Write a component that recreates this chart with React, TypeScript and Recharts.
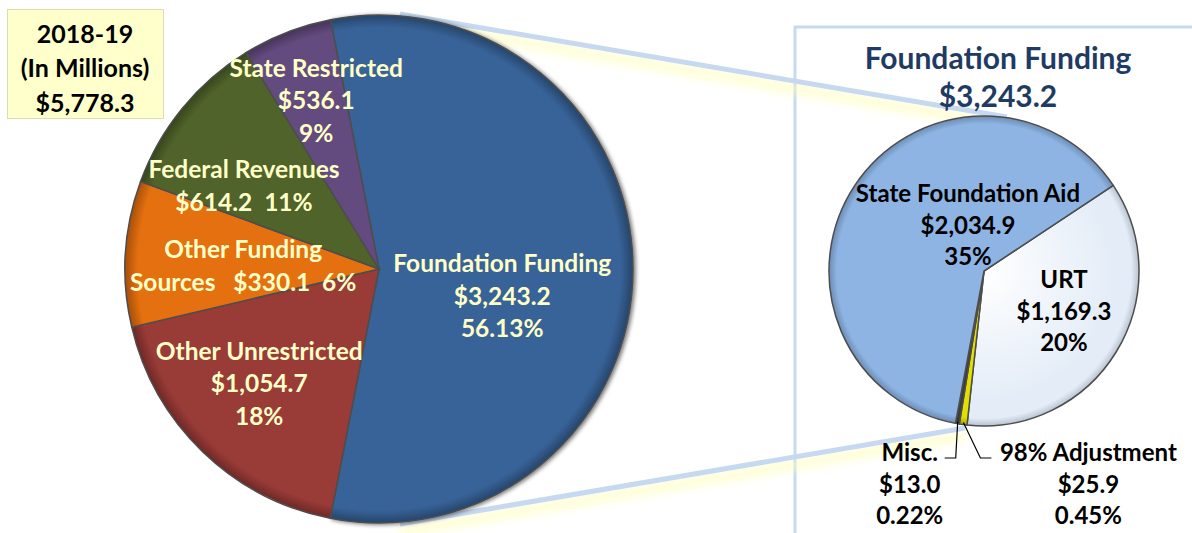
import React from 'react';
import { PieChart, Pie, Cell } from 'recharts';

const W = 1192;
const H = 533;

// main pie, clockwise from the top
const mainNames = ['Foundation Funding', 'Other Unrestricted', 'Other Funding Sources', 'Federal Revenues', 'State Restricted'];
// slice sizes as drawn (orange is drawn at the 536.1 size, purple at the 330.1 size)
const mainValues = [3243.2, 1054.7, 536.1, 614.2, 330.1];
const mainColors = ['#386398', '#993b37', '#e5700f', '#50632a', '#634b7f'];
const mainRims = ['#26456b', '#6e2826', '#a84f08', '#37451c', '#45345a'];
const mainLabels = [
  ['Foundation Funding', '$3,243.2', '56.13%'],
  ['Other Unrestricted', '$1,054.7', '18%'],
  ['Other Funding', 'Sources   $330.1  6%'],
  ['Federal Revenues', '$614.2  11%'],
  ['State Restricted', '$536.1', '9%'],
];

// breakdown of Foundation Funding, clockwise from the upper right
const subNames = ['URT', '98% Adjustment', 'Misc.', 'State Foundation Aid'];
const subValues = [1169.3, 25.9, 13.0, 2034.9];
const subColors = ['#e3ecf7', '#e2e000', '#3c3c3c', '#8db4e3'];
const subRims = ['#b9c3cf', '#a8a600', '#2a2a2a', '#6d8cb3'];
const subLabels = [
  ['URT', '$1,169.3', '20%'],
  ['98% Adjustment', '$25.9', '0.45%'],
  ['Misc.', '$13.0', '0.22%'],
  ['State Foundation Aid', '$2,034.9', '35%'],
];

const totalLabel = ['2018-19', '(In Millions)', '$5,778.3'];
const subTitle = ['Foundation Funding', '$3,243.2'];

const mainData = mainNames.map((name, i) => ({ name, value: mainValues[i] }));
const subData = subNames.map((name, i) => ({ name, value: subValues[i] }));

const MAIN = { cx: 379, cy: 269, r: 254 };
const SUB = { cx: 984, cy: 271, r: 155 };

// label placement: fraction of the radius and angle shift from the slice middle
const mainLabelPos = [
  { k: 0.496, da: -11.9 },
  { k: 0.65, da: -2.6 },
  { k: 0.535, da: 1.7 },
  { k: 0.626, da: 7.4 },
  { k: 0.71, da: -0.9 },
];
const subLabelPos = [
  { k: 0.574, da: 5.4 },
  { out: true, ex: 17, dir: 1, bx: 97 },
  { out: true, ex: -2, dir: -1, bx: -35 },
  { k: 0.32, da: -37.6 },
];

const FONT = 'Lato, "Open Sans", sans-serif';
const RAD = Math.PI / 180;
const polar = (cx: number, cy: number, r: number, a: number) => [cx + r * Math.cos(a * RAD), cy - r * Math.sin(a * RAD)];

const Lines = ({ x, y, lines, lh, fill, size }: any) => {
  const y0 = y - ((lines.length - 1) * lh) / 2;
  return (
    <text textAnchor="middle" fill={fill} fontFamily={FONT} fontWeight={700} fontSize={size} style={{ whiteSpace: 'pre' }}>
      {lines.map((l: string, i: number) => (
        <tspan key={i} x={x} y={y0 + i * lh} dominantBaseline="central">
          {l}
        </tspan>
      ))}
    </text>
  );
};

const mainLabel = (p: any) => {
  const { cx, cy, midAngle, outerRadius, index } = p;
  const pos = mainLabelPos[index];
  const [x, y] = polar(cx, cy, outerRadius * pos.k, midAngle + pos.da);
  return <Lines key={index} x={x} y={y} lines={mainLabels[index]} lh={32.5} fill="#ffffc8" size={24.5} />;
};

const subLabel = (p: any) => {
  const { cx, cy, midAngle, outerRadius, index } = p;
  const pos: any = subLabelPos[index];
  if (!pos.out) {
    const [x, y] = polar(cx, cy, outerRadius * pos.k, midAngle + pos.da);
    return <Lines key={index} x={x} y={y} lines={subLabels[index]} lh={31.5} fill="#000" size={24} />;
  }
  const [ex, ey] = polar(cx, cy, outerRadius - 2, midAngle);
  const elbowY = cy + outerRadius + 32;
  const elbowX = ex + pos.ex;
  const endX = elbowX + pos.dir * 11;
  return (
    <g key={index}>
      <polyline points={`${ex},${ey} ${elbowX},${elbowY} ${endX},${elbowY}`} fill="none" stroke="#000" strokeWidth={1.2} />
      <Lines x={endX + pos.bx} y={elbowY + 25} lines={subLabels[index]} lh={31.5} fill="#000" size={24} />
    </g>
  );
};

const Rim = ({ id, c, color, rim, inner }: any) => (
  <radialGradient id={id} gradientUnits="userSpaceOnUse" cx={c.cx} cy={c.cy} r={c.r}>
    <stop offset="0" stopColor={inner || color} />
    <stop offset="0.86" stopColor={color} />
    <stop offset="0.95" stopColor={color} />
    <stop offset="1" stopColor={rim} />
  </radialGradient>
);

export default function App() {
  return (
    <div style={{ position: 'absolute', left: 0, top: 0, width: W, height: H, overflow: 'hidden', background: '#fff', fontFamily: FONT }}>
      <svg width={W} height={H} style={{ position: 'absolute', left: 0, top: 0 }}>
        <defs>
          <filter id="glow" x="-10%" y="-50%" width="120%" height="200%">
            <feGaussianBlur stdDeviation="4" />
          </filter>
          <filter id="edge" x="-10%" y="-10%" width="120%" height="120%">
            <feDropShadow dx="2" dy="1" stdDeviation="2" floodColor="#000" floodOpacity="0.55" />
          </filter>
          {mainColors.map((col, i) => (
            <Rim key={i} id={`mg${i}`} c={MAIN} color={col} rim={mainRims[i]} />
          ))}
          {subColors.map((col, i) => (
            <Rim key={i} id={`sg${i}`} c={SUB} color={col} rim={subRims[i]} inner={i === 0 ? '#ffffff' : undefined} />
          ))}
        </defs>
        <rect x={7.5} y={9.5} width={156} height={109} fill="#ffffcc" stroke="#dcdcb4" strokeWidth={1} />
        <Lines x={85} y={67} lines={totalLabel} lh={34.5} fill="#000" size={25} />
        <rect x={795} y={27} width={420} height={540} fill="none" stroke="#c6d9f1" strokeWidth={3} />
        <line x1={400} y1={22} x2={1007} y2={125} stroke="#ffffb0" strokeWidth={10} opacity={0.55} filter="url(#glow)" />
        <line x1={400} y1={532} x2={965} y2={436} stroke="#ffffb0" strokeWidth={10} opacity={0.55} filter="url(#glow)" />
        <line x1={400} y1={14} x2={1007} y2={117} stroke="#c6d9f1" strokeWidth={5} />
        <line x1={400} y1={524} x2={965} y2={428} stroke="#c6d9f1" strokeWidth={5} />
        <Lines x={998} y={76} lines={subTitle} lh={38} fill="#1f3b63" size={30} />
      </svg>
      <div style={{ position: 'absolute', left: 0, top: 0 }}>
        <PieChart width={W} height={H} margin={{ top: 0, right: 0, bottom: 0, left: 0 }}>
          <Pie
            data={mainData}
            dataKey="value"
            cx={MAIN.cx}
            cy={MAIN.cy}
            outerRadius={MAIN.r}
            startAngle={101}
            endAngle={-259}
            label={mainLabel}
            labelLine={false}
            isAnimationActive={false}
          >
            {mainData.map((d, i) => (
              <Cell key={d.name} fill={`url(#mg${i})`} stroke="#4d4d4d" strokeWidth={1.5} filter={i === 0 ? 'url(#edge)' : undefined} />
            ))}
          </Pie>
          <Pie
            data={subData}
            dataKey="value"
            cx={SUB.cx}
            cy={SUB.cy}
            outerRadius={SUB.r}
            startAngle={33.5}
            endAngle={-326.5}
            label={subLabel}
            labelLine={false}
            isAnimationActive={false}
          >
            {subData.map((d, i) => (
              <Cell key={d.name} fill={`url(#sg${i})`} stroke="#4d4d4d" strokeWidth={1.5} />
            ))}
          </Pie>
        </PieChart>
      </div>
    </div>
  );
}
